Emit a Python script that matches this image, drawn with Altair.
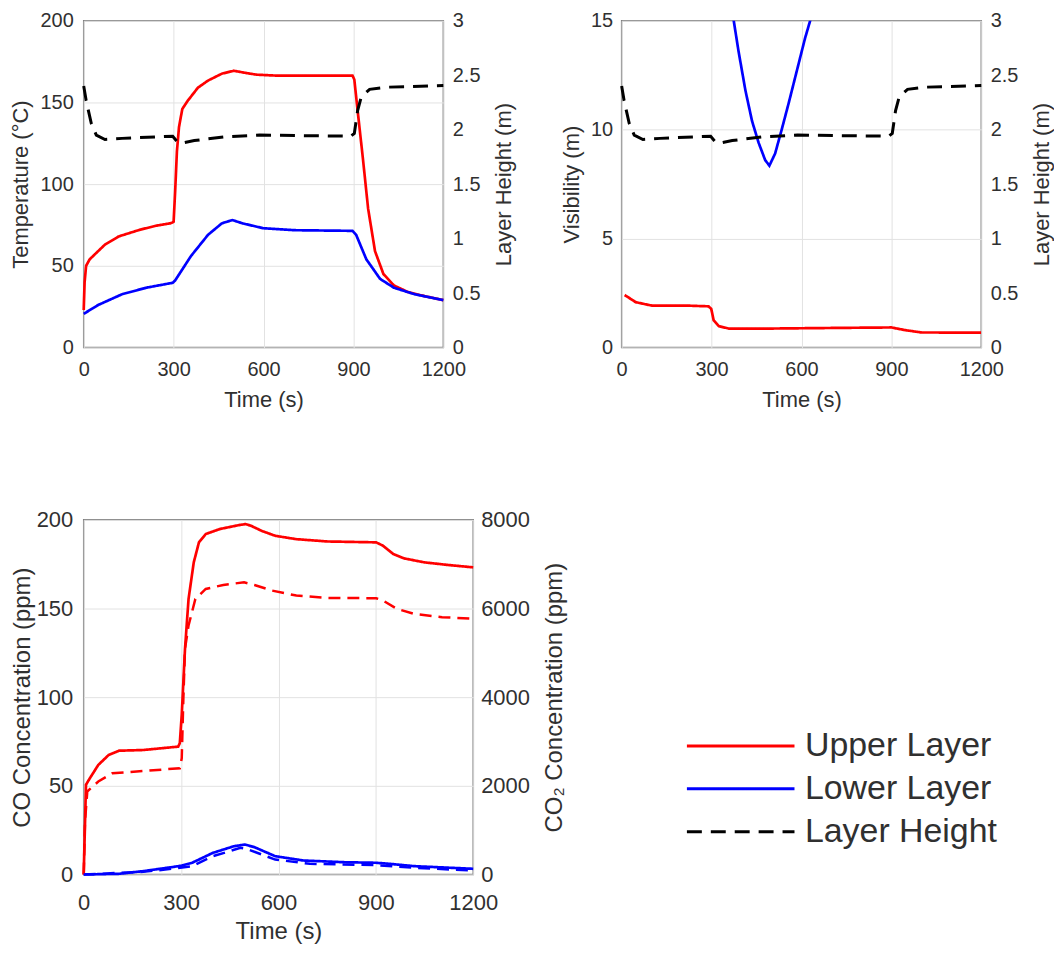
import altair as alt
import pandas as pd

FONT = "Liberation Sans"
TEXT = "#303030"
X_TICKS = [0, 300, 600, 900, 1200]
SERIES = ["Upper Layer", "Lower Layer", "Layer Height"]
COLORS = ["#ff0000", "#0000ff", "#000000"]
DASHES = [[1, 0], [1, 0], [15, 9]]

# ---- Panel 1: temperature (°C) ----
t_temp_up = [0, 3, 8, 20, 37, 71, 117, 186, 243, 289, 297, 300, 305, 311, 318, 329, 347, 381, 415, 461, 501, 530, 576, 645, 897, 903, 914, 932, 949, 972, 1000, 1035, 1081, 1138, 1200]
temp_up = [23, 40, 50, 54, 57, 63, 68, 72, 74.6, 76, 76.6, 77, 95, 120, 135, 146, 151, 159, 163.4, 167.6, 169.4, 168.4, 167, 166.4, 166.4, 164, 145, 115, 85, 59, 45, 38, 34, 31.4, 29]
t_temp_lo = [0, 48, 128, 209, 297, 305, 358, 415, 461, 496, 530, 599, 702, 897, 909, 943, 989, 1035, 1104, 1200]
temp_lo = [20.6, 26, 32.6, 36.6, 39.6, 41, 56, 69, 76, 78, 76, 73, 71.8, 71.4, 69, 54, 42, 36.6, 32.6, 29]

# ---- Layer height (m) ----
t_h = [0, 8, 25, 42, 71, 128, 297, 312, 324, 369, 473, 587, 891, 903, 914, 926, 954, 1012, 1200]
h_val = [2.4, 2.27, 2.06, 1.95, 1.91, 1.92, 1.94, 1.89, 1.875, 1.9, 1.935, 1.95, 1.94, 1.965, 2.175, 2.3, 2.37, 2.39, 2.405]

# ---- Panel 2: visibility (m) ----
t_vis_up = [10, 47, 102, 224, 290, 299, 307, 324, 357, 501, 723, 900, 945, 1000, 1200]
vis_up = [2.41, 2.08, 1.92, 1.92, 1.89, 1.77, 1.25, 0.98, 0.87, 0.87, 0.9, 0.92, 0.8, 0.69, 0.68]
t_vis_lo = [340, 374, 390, 413, 435, 457, 479, 493, 512, 534, 557, 590, 612, 629, 660]
vis_lo = [17, 15, 13.6, 11.8, 10.4, 9.4, 8.6, 8.35, 8.9, 10, 11.2, 13, 14.2, 15, 16.6]

# ---- Panel 3: CO (ppm) and CO2 (ppm) ----
t_co_up = [0, 7, 18, 45, 77, 109, 184, 291, 296, 302, 312, 323, 339, 355, 376, 419, 483, 499, 516, 548, 590, 655, 751, 901, 922, 954, 986, 1050, 1125, 1200]
co_up = [0, 50.6, 54, 61.8, 67.4, 69.8, 70.2, 72.1, 74, 90, 127, 155.4, 176, 187.3, 192, 194.8, 197.2, 197.6, 196.6, 193.8, 191, 189.1, 187.8, 187.3, 185.4, 180.7, 178.3, 176, 174.5, 173.2]
t_co_lo = [0, 109, 184, 270, 302, 334, 398, 462, 496, 526, 590, 676, 804, 901, 943, 1018, 1200]
co_lo = [0, 0.4, 1.9, 4.1, 5, 6.6, 12.2, 15.9, 16.9, 15.4, 10.3, 7.9, 6.9, 6.6, 6, 4.7, 3.2]
t_co2_up = [0, 4, 11, 45, 88, 163, 296, 302, 307, 312, 323, 344, 376, 430, 494, 526, 580, 655, 751, 901, 922, 965, 1018, 1104, 1200]
co2_up = [0, 1200, 1873, 2097, 2284, 2322, 2397, 2622, 3970, 5093, 5618, 6217, 6441, 6531, 6591, 6531, 6404, 6292, 6239, 6232, 6179, 5992, 5880, 5805, 5767]
t_co2_lo = [0, 184, 270, 334, 398, 483, 499, 590, 697, 901, 1018, 1200]
co2_lo = [0, 60, 127, 187, 412, 600, 584, 337, 240, 210, 150, 90]


def frame(ts, vs, name):
    return pd.DataFrame({"t": ts, "v": vs, "series": name})


df_temp = pd.concat([frame(t_temp_up, temp_up, "Upper Layer"), frame(t_temp_lo, temp_lo, "Lower Layer")])
df_h = frame(t_h, h_val, "Layer Height")
df_vis = pd.concat([frame(t_vis_up, vis_up, "Upper Layer"), frame(t_vis_lo, vis_lo, "Lower Layer")])
df_co = pd.concat([frame(t_co_up, co_up, "Upper Layer"), frame(t_co_lo, co_lo, "Lower Layer")])
df_co2 = pd.concat([frame(t_co2_up, co2_up, "Upper Layer"), frame(t_co2_lo, co2_lo, "Lower Layer")])

LEGEND = alt.Legend(
    orient="none", legendX=604, legendY=710, title=None,
    symbolType="stroke", symbolSize=11664, symbolStrokeWidth=3,
    clipHeight=36, rowPadding=7, padding=0, labelLimit=0,
    labelFontSize=34, labelFont=FONT, labelColor=TEXT, labelOffset=9,
)
color_enc = alt.Color("series:N", scale=alt.Scale(domain=SERIES, range=COLORS), legend=LEGEND)
dash_enc = alt.StrokeDash("series:N", scale=alt.Scale(domain=SERIES, range=DASHES), legend=LEGEND)

LABEL_EXPR = "'' + datum.value"


def x_enc(lab, tit, lpad, tpad):
    return alt.X(
        "t:Q", scale=alt.Scale(domain=[0, 1200], nice=False, zero=False),
        axis=alt.Axis(values=X_TICKS, title="Time (s)", labelFontSize=lab, titleFontSize=tit,
                      labelPadding=lpad, titlePadding=tpad, labelFlush=False, labelOverlap=False,
                      grid=True, labelExpr=LABEL_EXPR),
    )


def y_left(dom, vals, title, lab, tit, lpad, tpad):
    return alt.Y(
        "v:Q", scale=alt.Scale(domain=dom, nice=False, zero=False),
        axis=alt.Axis(values=vals, title=title, labelFontSize=lab, titleFontSize=tit,
                      labelPadding=lpad, titlePadding=tpad, grid=True, labelExpr=LABEL_EXPR,
                      labelOverlap=False),
    )


def y_right(dom, vals, title, lab, tit, lpad, tpad):
    return alt.Y(
        "v:Q", scale=alt.Scale(domain=dom, nice=False, zero=False),
        axis=alt.Axis(orient="right", values=vals, title=title, labelFontSize=lab, titleFontSize=tit,
                      labelPadding=lpad, titlePadding=tpad, grid=False, labelExpr=LABEL_EXPR,
                      titleAngle=270, titleBaseline="top", labelOverlap=False),
    )


H_VALS = [0, 0.5, 1, 1.5, 2, 2.5, 3]
X12 = x_enc(20, 22, 12, 10)
X3 = x_enc(22, 24, 18, 6.5)

# Panel 1
p1_left = alt.Chart(df_temp).mark_line(strokeWidth=2.7).encode(
    x=X12,
    y=y_left([0, 200], [0, 50, 100, 150, 200], "Temperature (°C)", 20, 22, 10.5, 7.5),
    color=color_enc, strokeDash=dash_enc, detail="series:N",
)
p1_right = alt.Chart(df_h).mark_line(strokeWidth=3).encode(
    x=X12,
    y=y_right([0, 3], H_VALS, "Layer Height (m)", 20, 22, 9, 14),
    color=color_enc, strokeDash=dash_enc,
)
p1 = alt.layer(p1_left, p1_right).resolve_scale(y="independent").properties(width=361, height=328)

# Panel 2
p2_left = alt.Chart(df_vis).mark_line(strokeWidth=2.7, clip=True).encode(
    x=X12,
    y=y_left([0, 15], [0, 5, 10, 15], "Visibility (m)", 20, 22, 9, 7.5),
    color=color_enc, strokeDash=dash_enc, detail="series:N",
)
p2_right = alt.Chart(df_h).mark_line(strokeWidth=3).encode(
    x=X12,
    y=y_right([0, 3], H_VALS, "Layer Height (m)", 20, 22, 9, 14),
    color=color_enc, strokeDash=dash_enc,
)
p2 = alt.layer(p2_left, p2_right).resolve_scale(y="independent").properties(width=361, height=328)

# Panel 3
p3_left = alt.Chart(df_co).mark_line(strokeWidth=2.7).encode(
    x=X3,
    y=y_left([0, 200], [0, 50, 100, 150, 200], "CO Concentration (ppm)", 22, 24, 11, 2),
    color=color_enc, strokeDash=dash_enc, detail="series:N",
)
p3_right = alt.Chart(df_co2).mark_line(strokeWidth=2.5, strokeDash=[12, 7]).encode(
    x=X3,
    y=y_right([0, 8000], [0, 2000, 4000, 6000, 8000], "CO\u2082 Concentration (ppm)", 22, 24, 7.5, 13),
    color=color_enc, detail="series:N",
)
p3 = alt.layer(p3_left, p3_right).resolve_scale(y="independent").properties(width=391, height=356)

chart = alt.concat(
    p1, p2, p3, columns=2, spacing={"row": 173, "column": 149}, bounds="flush", align="each",
).resolve_scale(color="shared", strokeDash="shared").properties(
    padding={"left": 0, "top": 0, "right": 0, "bottom": 0},
).configure(
    font=FONT,
).configure_axis(
    labelFont=FONT, titleFont=FONT, labelColor=TEXT, titleColor=TEXT,
    titleFontWeight="normal", ticks=False, tickSize=0, domain=False,
    gridColor="#e2e2e2", gridWidth=1,
).configure_view(
    stroke="#808080", strokeWidth=1.5,
)

chart.save("out.html", embed_options={"renderer": "svg", "actions": False})
